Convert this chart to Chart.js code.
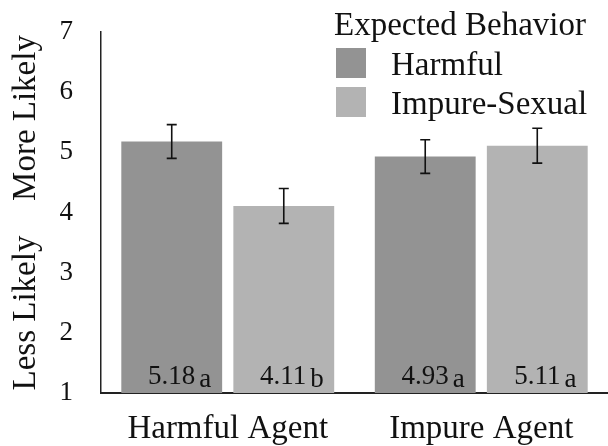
<!DOCTYPE html>
<html>
<head>
<meta charset="utf-8">
<script src="https://cdn.jsdelivr.net/npm/chart.js@4"></script>
<style>
  html, body { margin: 0; padding: 0; background: #fff; }
  #chart { display: block; }
</style>
</head>
<body>
<canvas id="chart" width="608" height="446"></canvas>
<script>
// Data
const agents = ['Harmful Agent', 'Impure Agent'];
const behaviors = ['Harmful', 'Impure-Sexual'];
const harmfulMeans = [5.18, 4.93];
const impureMeans = [4.11, 5.11];
const harmfulErrors = [0.28, 0.28];
const impureErrors = [0.29, 0.29];
const harmfulLetters = ['a', 'a'];
const impureLetters = ['b', 'a'];
const yTicks = [1, 2, 3, 4, 5, 6, 7];

const SERIF = '"Liberation Serif", "DejaVu Serif", serif';
const COLORS = ['#939393', '#b3b3b3'];

// Error bars, value labels, legend and side titles
const extras = {
  id: 'extras',
  afterDatasetsDraw(chart) {
    const ctx = chart.ctx;
    const y = chart.scales.y;
    const errors = [harmfulErrors, impureErrors];
    const means = [harmfulMeans, impureMeans];
    const letters = [harmfulLetters, impureLetters];

    ctx.save();
    chart.data.datasets.forEach((ds, di) => {
      const meta = chart.getDatasetMeta(di);
      meta.data.forEach((bar, i) => {
        // error bar
        const top = y.getPixelForValue(means[di][i] + errors[di][i]);
        const bot = y.getPixelForValue(means[di][i] - errors[di][i]);
        ctx.strokeStyle = '#111';
        ctx.lineWidth = 1.6;
        ctx.beginPath();
        ctx.moveTo(bar.x, top);
        ctx.lineTo(bar.x, bot);
        ctx.moveTo(bar.x - 5, top);
        ctx.lineTo(bar.x + 5, top);
        ctx.moveTo(bar.x - 5, bot);
        ctx.lineTo(bar.x + 5, bot);
        ctx.stroke();

        // value label with letter
        const num = means[di][i].toFixed(2);
        ctx.font = '27px ' + SERIF;
        ctx.fillStyle = '#111';
        ctx.textBaseline = 'alphabetic';
        ctx.textAlign = 'left';
        const wNum = ctx.measureText(num).width;
        const wLet = ctx.measureText(letters[di][i]).width;
        const gap = 4;
        const start = bar.x + 8 - (wNum + gap + wLet) / 2;
        const base = y.getPixelForValue(1) - 9;
        ctx.fillText(num, start, base);
        ctx.fillText(letters[di][i], start + wNum + gap, base + 3);
      });
    });

    // legend
    ctx.font = '33px ' + SERIF;
    ctx.fillStyle = '#111';
    ctx.textAlign = 'left';
    ctx.textBaseline = 'alphabetic';
    ctx.fillText('Expected Behavior', 334, 35);
    behaviors.forEach((name, i) => {
      const by = 48 + i * 39;
      ctx.fillStyle = COLORS[i];
      ctx.fillRect(336, by, 30, 30);
      ctx.fillStyle = '#111';
      ctx.fillText(name, 391, by + 27);
    });

    // side titles
    ctx.font = '33px ' + SERIF;
    ctx.textAlign = 'center';
    [['More Likely', 118], ['Less Likely', 313]].forEach(([text, cy]) => {
      ctx.save();
      ctx.translate(35, cy);
      ctx.rotate(-Math.PI / 2);
      ctx.fillText(text, 0, 0);
      ctx.restore();
    });
    ctx.restore();
  }
};

new Chart(document.getElementById('chart'), {
  type: 'bar',
  data: {
    labels: agents,
    datasets: [
      { label: behaviors[0], data: harmfulMeans, backgroundColor: COLORS[0] },
      { label: behaviors[1], data: impureMeans, backgroundColor: COLORS[1] }
    ]
  },
  options: {
    responsive: false,
    devicePixelRatio: 1,
    animation: false,
    categoryPercentage: 0.884,
    barPercentage: 0.9,
    layout: { padding: { top: 32, right: 0, bottom: 0, left: 0 } },
    plugins: {
      legend: { display: false },
      tooltip: { enabled: false }
    },
    scales: {
      x: {
        grid: { display: false, drawTicks: false },
        border: { color: '#222', width: 2 },
        ticks: { color: '#111', font: { family: SERIF, size: 33 }, padding: 17 },
        afterFit: (scale) => { scale.height = 53; }
      },
      y: {
        min: 1,
        max: 7,
        grid: { display: false, drawTicks: false },
        border: { color: '#222', width: 1.5 },
        afterBuildTicks: (scale) => { scale.ticks = yTicks.map(v => ({ value: v })); },
        ticks: { color: '#111', font: { family: SERIF, size: 27 }, padding: 28 },
        afterFit: (scale) => {
          scale.width = 101;
          scale.paddingTop = 0;
          scale.paddingBottom = 0;
        }
      }
    }
  },
  plugins: [extras]
});
</script>
</body>
</html>
